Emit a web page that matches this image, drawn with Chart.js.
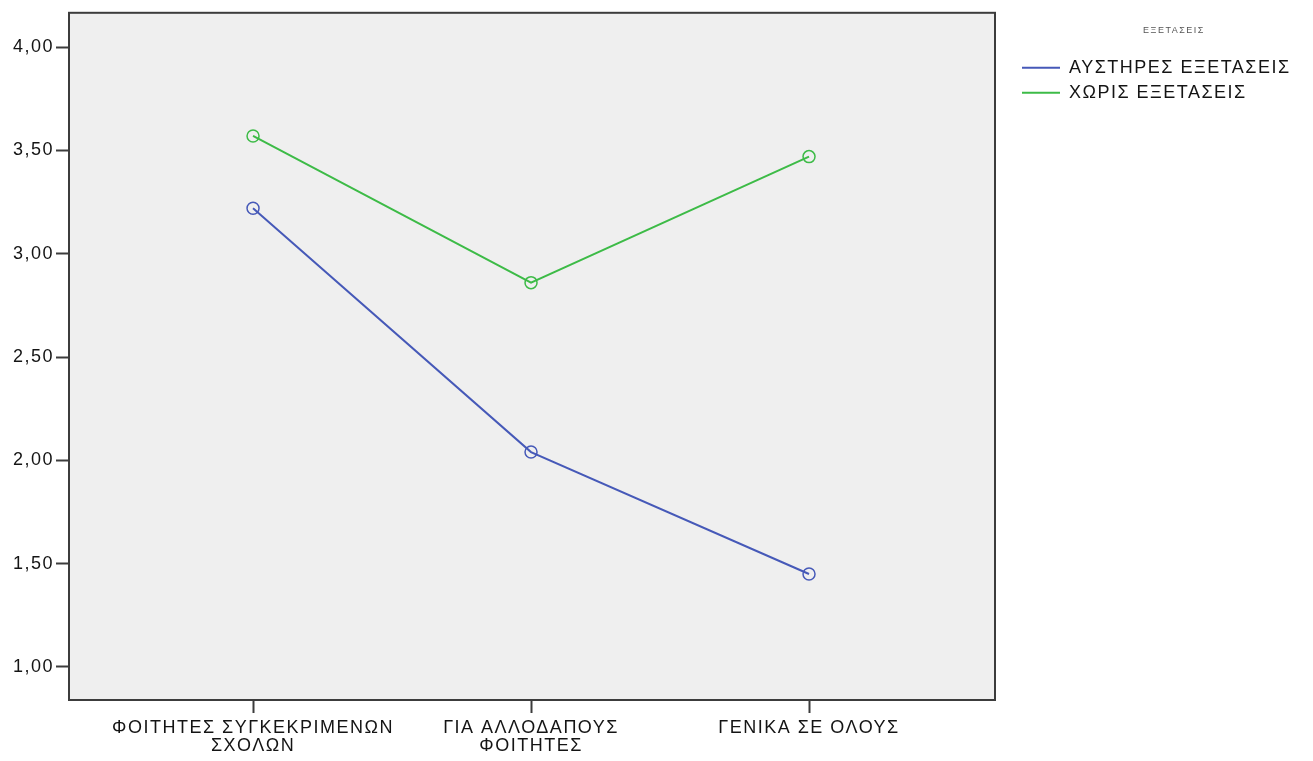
<!DOCTYPE html>
<html lang="el">
<head>
<meta charset="UTF-8">
<title>ΕΞΕΤΑΣΕΙΣ</title>
<script src="https://cdn.jsdelivr.net/npm/chart.js"></script>
<style>
    body {
        margin: 0;
        background: #ffffff;
    }
    .wrap {
        width: 1313px;
        height: 761px;
    }
</style>
</head>
<body>

<div class="wrap">
    <canvas id="plot"></canvas>
</div>

<script>
// data
const categories = [
    ['ΦΟΙΤΗΤΕΣ ΣΥΓΚΕΚΡΙΜΕΝΩΝ', 'ΣΧΟΛΩΝ'],
    ['ΓΙΑ ΑΛΛΟΔΑΠΟΥΣ', 'ΦΟΙΤΗΤΕΣ'],
    'ΓΕΝΙΚΑ ΣΕ ΟΛΟΥΣ'
];
const strictExams = [3.22, 2.04, 1.45];
const noExams = [3.57, 2.86, 3.47];
const yTicks = [1.0, 1.5, 2.0, 2.5, 3.0, 3.5, 4.0];
const seriesNames = ['ΑΥΣΤΗΡΕΣ ΕΞΕΤΑΣΕΙΣ', 'ΧΩΡΙΣ ΕΞΕΤΑΣΕΙΣ'];
const legendTitle = 'ΕΞΕΤΑΣΕΙΣ';

const BLUE = '#4659b8';
const GREEN = '#3dbb47';
const INK = '#141414';

function points(vals) {
    return vals.map((v, i) => ({ x: i, y: v }));
}

function spacing(chart) {
    chart.ctx.letterSpacing = '1.5px';
}

// grey plot panel with a frame, like the SPSS output
const panel = {
    id: 'panel',
    beforeUpdate: spacing,
    beforeDraw(chart) {
        spacing(chart);
        const { ctx, chartArea: a } = chart;
        ctx.save();
        ctx.fillStyle = '#efefef';
        ctx.fillRect(a.left, a.top, a.right - a.left, a.bottom - a.top);
        ctx.restore();
    },
    afterDraw(chart) {
        const { ctx, chartArea: a } = chart;
        ctx.save();
        ctx.strokeStyle = '#3c3c3c';
        ctx.lineWidth = 2;
        ctx.strokeRect(a.left, a.top, a.right - a.left, a.bottom - a.top);
        ctx.restore();
    },
    afterInit(chart) {
        const lg = chart.legend;
        const fit = lg.fit.bind(lg);
        lg.fit = function () {
            fit();
            this.width = 318;
        };
    },
    afterLayout(chart) {
        chart.legend.left += 20;
        chart.legend.right += 20;
    }
};

new Chart(document.getElementById('plot'), {
    type: 'line',
    data: {
        datasets: [
            {
                label: seriesNames[0],
                data: points(strictExams),
                borderColor: BLUE,
                backgroundColor: BLUE,
                borderWidth: 2,
                pointRadius: 6,
                pointBorderWidth: 1.5,
                pointBackgroundColor: 'rgba(0,0,0,0)',
                pointBorderColor: BLUE
            },
            {
                label: seriesNames[1],
                data: points(noExams),
                borderColor: GREEN,
                backgroundColor: GREEN,
                borderWidth: 2,
                pointRadius: 6,
                pointBorderWidth: 1.5,
                pointBackgroundColor: 'rgba(0,0,0,0)',
                pointBorderColor: GREEN
            }
        ]
    },
    options: {
        responsive: true,
        maintainAspectRatio: false,
        animation: false,
        layout: {
            padding: { top: 10, left: 0, right: 0, bottom: 0 }
        },
        font: { family: '"Liberation Sans", Arial, sans-serif', size: 18 },
        color: INK,
        plugins: {
            tooltip: { enabled: false },
            legend: {
                position: 'right',
                align: 'start',
                title: {
                    display: true,
                    text: legendTitle,
                    color: '#555555',
                    font: { size: 9 },
                    padding: { top: 16, bottom: 15 }
                },
                labels: {
                    usePointStyle: true,
                    pointStyle: 'line',
                    pointStyleWidth: 38,
                    color: INK,
                    padding: 7,
                    font: { size: 18 },
                    generateLabels(chart) {
                        return Chart.defaults.plugins.legend.labels.generateLabels(chart)
                            .map(l => Object.assign(l, { lineWidth: 2 }));
                    }
                }
            }
        },
        scales: {
            x: {
                type: 'linear',
                min: -0.662,
                max: 2.669,
                afterBuildTicks: (s) => { s.ticks = categories.map((c, i) => ({ value: i })); },
                afterFit: (s) => { s.height = 61; },
                grid: {
                    drawOnChartArea: false,
                    drawTicks: true,
                    tickLength: 13,
                    tickWidth: 2,
                    tickColor: '#3c3c3c'
                },
                border: { display: false },
                ticks: {
                    autoSkip: false,
                    maxRotation: 0,
                    padding: 6,
                    color: INK,
                    font: { size: 18, lineHeight: 1.0 },
                    callback: (v) => categories[v]
                }
            },
            y: {
                min: 0.84,
                max: 4.166,
                afterBuildTicks: (s) => { s.ticks = yTicks.map(v => ({ value: v })); },
                afterFit: (s) => { s.width = 69; },
                grid: {
                    drawOnChartArea: false,
                    drawTicks: true,
                    tickLength: 13,
                    tickWidth: 2,
                    tickColor: '#3c3c3c'
                },
                border: { display: false },
                ticks: {
                    padding: 2,
                    color: INK,
                    font: { size: 18 },
                    callback: (v) => v.toFixed(2).replace('.', ',')
                }
            }
        }
    },
    plugins: [panel]
});
</script>

</body>
</html>
